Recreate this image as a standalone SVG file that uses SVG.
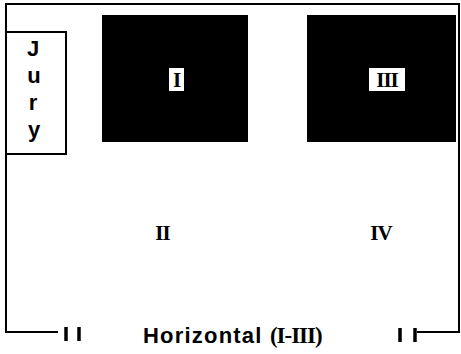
<svg xmlns="http://www.w3.org/2000/svg" width="461" height="354" viewBox="0 0 461 354">
<style>
.frame{fill:none;stroke:#000;stroke-width:2}
.blk{fill:#000}
.lbl{fill:#fff}
.rom{font-family:"Liberation Serif",serif;font-weight:bold;font-size:21px;text-anchor:middle;fill:#000;letter-spacing:-1px}
.sans{font-family:"Liberation Sans",Arial,sans-serif;font-weight:bold;font-size:22px;fill:#000}
.tick{stroke:#000;stroke-width:3.5}
</style>
<rect width="461" height="354" fill="#fff"/>
<g id="frame">
<path class="frame" d="M58,332 H6 V4 H459 V332 H417"/>
<line class="tick" x1="66" y1="327" x2="66" y2="341"/>
<line class="tick" x1="79" y1="327" x2="79" y2="341"/>
<line class="tick" x1="400" y1="328" x2="400" y2="342"/>
<line class="tick" x1="415" y1="328" x2="415" y2="342"/>
</g>
<g id="jury">
<rect x="6" y="32" width="60" height="122" fill="#fff" stroke="#000" stroke-width="2"/>
<text class="sans" x="33" y="56" text-anchor="middle">J</text>
<text class="sans" x="34" y="83" text-anchor="middle">u</text>
<text class="sans" x="33" y="110" text-anchor="middle">r</text>
<text class="sans" x="34" y="137" text-anchor="middle">y</text>
</g>
<g id="quad1">
<rect class="blk" x="102" y="15" width="146" height="127"/>
<rect class="lbl" x="169" y="68" width="15" height="23"/>
<text class="rom" x="176.5" y="87">I</text>
</g>
<g id="quad3">
<rect class="blk" x="307" y="15" width="149" height="127"/>
<rect class="lbl" x="369" y="68" width="36" height="23"/>
<text class="rom" x="387" y="87">III</text>
</g>
<g id="quad2">
<text class="rom" x="162.5" y="240">II</text>
</g>
<g id="quad4">
<text class="rom" x="381" y="240">IV</text>
</g>
<g id="axis">
<text x="143" y="343"><tspan class="sans" letter-spacing="1.2">Horizontal </tspan><tspan font-family="Liberation Serif,serif" font-weight="bold" font-size="23px" letter-spacing="-1">(I-III)</tspan></text>
</g>
</svg>
